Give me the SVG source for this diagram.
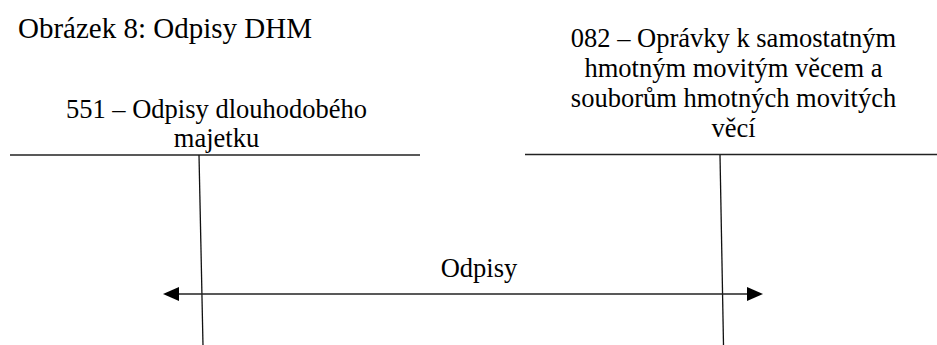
<svg xmlns="http://www.w3.org/2000/svg" width="937" height="345" viewBox="0 0 937 345">
  <style>
    text { font-family: "Liberation Serif", "Times New Roman", serif; fill: #000; }
    .title { font-size: 29px; }
    .acct { font-size: 26.5px; text-anchor: middle; }
    .rule { stroke: #222; stroke-width: 1.5; fill: none; }
    .stem { stroke: #111; stroke-width: 1.3; fill: none; }
    .flow { stroke: #222; stroke-width: 1.6; fill: none; }
  </style>
  <defs>
    <marker id="head" viewBox="0 0 16 14" refX="1" refY="7" markerWidth="16" markerHeight="14" markerUnits="userSpaceOnUse" orient="auto-start-reverse">
      <path d="M0,0 L16,7 L0,14 Z" fill="#000"/>
    </marker>
  </defs>

  <rect width="937" height="345" fill="#fff"/>

  <text class="title" x="18" y="38">Obrázek 8: Odpisy DHM</text>

  <!-- T-account 551 -->
  <g id="acct-551">
    <text class="acct" x="216.5" y="118">551 – Odpisy dlouhodobého</text>
    <text class="acct" x="216.5" y="147">majetku</text>
    <line class="rule" x1="10" y1="155" x2="420" y2="155"/>
    <line class="stem" x1="199" y1="155" x2="203" y2="345"/>
  </g>

  <!-- T-account 082 -->
  <g id="acct-082">
    <text class="acct" x="733.5" y="47">082 – Oprávky k samostatným</text>
    <text class="acct" x="733.5" y="77">hmotným movitým věcem a</text>
    <text class="acct" x="733.5" y="107">souborům hmotných movitých</text>
    <text class="acct" x="733.5" y="137">věcí</text>
    <line class="rule" x1="525" y1="154.5" x2="937" y2="154.5"/>
    <line class="stem" x1="720" y1="155" x2="723.5" y2="345"/>
  </g>

  <!-- double-headed transfer arrow -->
  <g id="connectors">
    <line class="flow" x1="178" y1="294" x2="748" y2="294" marker-start="url(#head)" marker-end="url(#head)"/>
    <text class="acct" x="479" y="277">Odpisy</text>
  </g>
</svg>
